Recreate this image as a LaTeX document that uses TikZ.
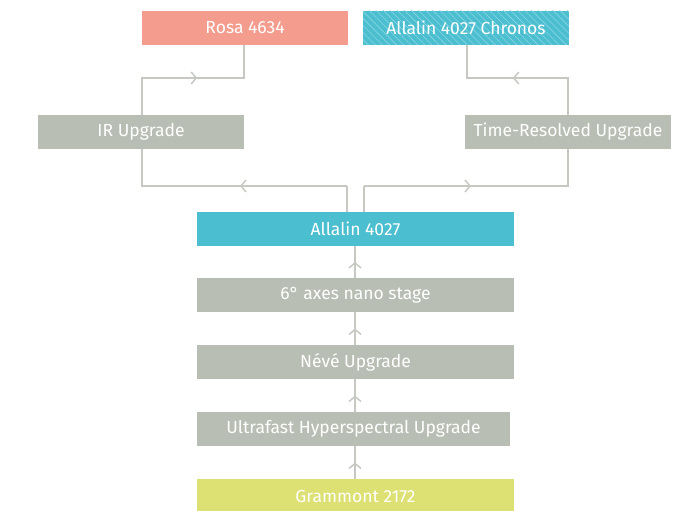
\documentclass[tikz,border=0pt]{standalone}
\usepackage{fontspec}
\setmainfont{Fira Sans}
\usetikzlibrary{arrows.meta,decorations.markings,patterns.meta,calc}
\definecolor{boxgray}{HTML}{B9BEB4}
\definecolor{linegray}{HTML}{C6C9C1}
\definecolor{rosac}{HTML}{F49C8D}
\definecolor{cyanc}{HTML}{4BBED0}
\definecolor{stripec}{HTML}{8AD6E2}
\definecolor{yellowc}{HTML}{DDE072}
\tikzset{
  box/.style={fill=boxgray, text=white, minimum height=34pt, inner sep=0pt, font=\fontsize{17.5}{20}\selectfont},
  conn/.style={draw=linegray, line width=1.5pt},
  cv/.tip={Straight Barb[length=5pt, width=12pt, line width=1.5pt]},
  midarrow/.style={postaction={decorate, decoration={markings, mark=at position #1 with {\arrow[linegray]{cv}}}}}
}
\begin{document}
\begin{tikzpicture}[x=1pt,y=-1pt]
\useasboundingbox (0,0) rectangle (696,511);
\node[box, fill=rosac, minimum width=206pt] (rosa) at (245,28) {Rosa 4634};
\node[box, fill=cyanc, minimum width=206pt, postaction={pattern={Lines[angle=-45,distance=5pt,line width=0.6pt]}, pattern color=stripec}] (chronos) at (466,28) {};
\node[font=\fontsize{17.5}{20}\selectfont, text=white, inner sep=0pt] (chronoslabel) at (chronos.center) {Allalin 4027 Chronos};
\node[box, minimum width=206pt] (ir) at (141,132) {IR Upgrade};
\node[box, minimum width=206pt] (time) at (568,132) {Time-Resolved Upgrade};
\node[box, fill=cyanc, minimum width=317pt] (allalin) at (355.5,229) {Allalin 4027};
\node[box, minimum width=317pt] (six) at (355.5,295) {6° axes nano stage};
\node[box, minimum width=317pt] (neve) at (355.5,362) {Névé Upgrade};
\node[box, minimum width=313pt] (ultra) at (353.5,429) {Ultrafast Hyperspectral Upgrade};
\node[box, fill=yellowc, minimum width=317pt] (gram) at (355.5,496) {Grammont 2172};

\coordinate (jL) at (347,186);
\coordinate (jR) at (364,186);
\coordinate (uL) at (142,78);
\coordinate (uR) at (568,78);

\draw[conn] ([xshift=-8.5pt]allalin.north) -- (jL);
\draw[conn] ([xshift=8.5pt]allalin.north) -- (jR);
\draw[conn, midarrow=107pt] (jL) -| ([xshift=1pt]ir.south);
\draw[conn, midarrow=107pt] (jR) -| (time.south);
\draw[conn, midarrow=92pt] ([xshift=1pt]ir.north) -- (uL) -| ([xshift=-1pt]rosa.south);
\draw[conn, midarrow=92pt] (time.north) -- (uR) -| ([xshift=1pt]chronos.south);

\draw[conn, midarrow=0.5] ([xshift=-0.5pt]gram.north) -- ([xshift=-0.5pt]gram.north |- ultra.south);
\draw[conn, midarrow=0.5] ([xshift=-0.5pt]ultra.north -| neve.south) -- ([xshift=-0.5pt]neve.south);
\draw[conn, midarrow=0.5] ([xshift=-0.5pt]neve.north) -- ([xshift=-0.5pt]six.south);
\draw[conn, midarrow=0.5] ([xshift=-0.5pt]six.north) -- ([xshift=-0.5pt]allalin.south);
\end{tikzpicture}
\end{document}
